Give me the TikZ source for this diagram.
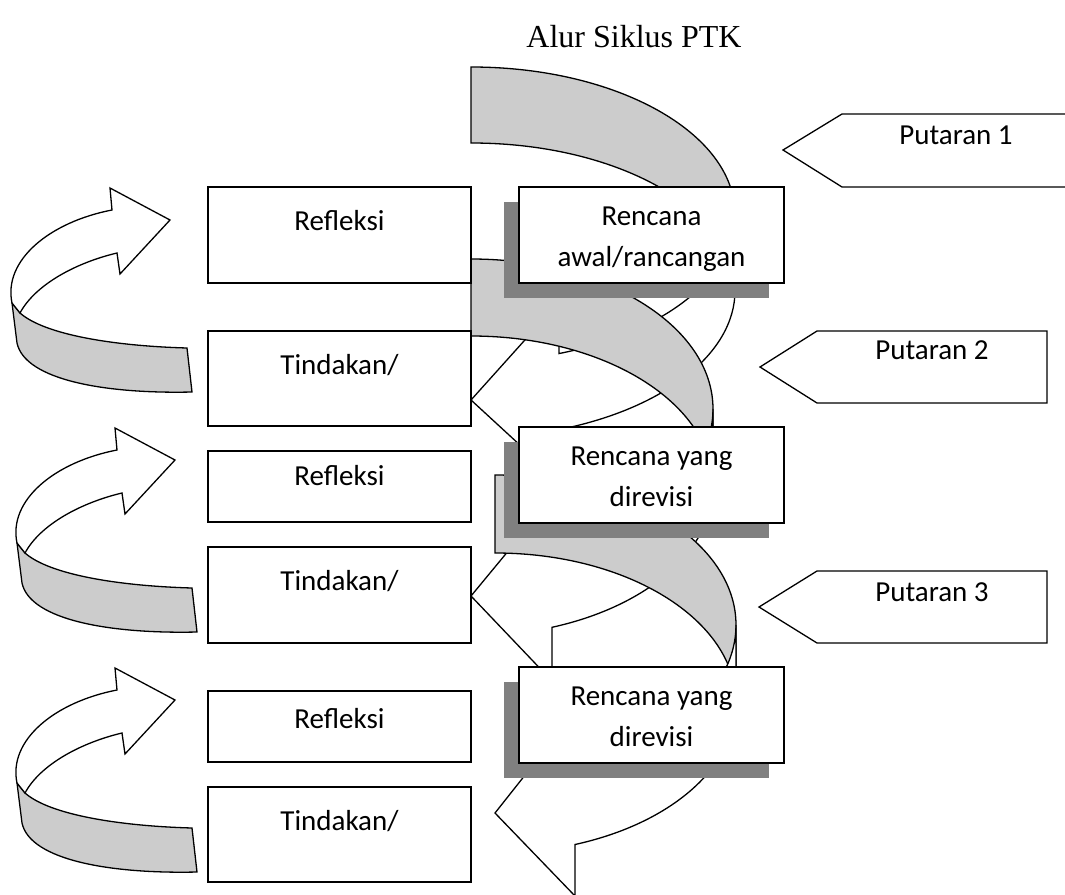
\documentclass[tikz,border=0pt]{standalone}
\usepackage{fontspec}
\setmainfont{Carlito}
\newfontfamily\titlefont{Liberation Serif}
\usetikzlibrary{shadows}
\begin{document}
\begin{tikzpicture}[x=1pt,y=-1pt,line width=1.3pt,
    box/.style={rectangle,draw,fill=white,inner sep=0pt,minimum width=263pt},
    plan/.style={rectangle,draw,fill=white,inner sep=0pt,minimum width=265pt,minimum height=96pt,
      drop shadow={shadow xshift=-15pt,shadow yshift=-15pt,opacity=1,fill=black!50}},
    box text/.style={anchor=base,align=center,inner sep=0pt,font=\fontsize{29}{41}\selectfont},
    back/.style={draw,fill=black!20},
    front/.style={draw,fill=white}]
  \useasboundingbox (0,0) rectangle (1065,894);
  \clip (0,0) rectangle (1065,894);

  \node[anchor=base,inner sep=0pt,font=\titlefont\fontsize{32}{38}\selectfont] (title) at (634,47) {Alur Siklus PTK};

  % putaran 1
  \draw[back] (471,67) arc[start angle=270,end angle=360,x radius=264,y radius=147.5]
    -- (735,290.5) arc[start angle=0,end angle=-90,x radius=264,y radius=147.5] -- cycle;
  \draw[front] (735,214.5) arc[start angle=0,end angle=70.53,x radius=264,y radius=147.5]
    -- (559,302) -- (471,400) -- (559,481) -- (559,429.6)
    arc[start angle=70.53,end angle=0,x radius=264,y radius=147.5] -- cycle;
  % putaran 2
  \draw[back] (471,259) arc[start angle=270,end angle=360,x radius=242,y radius=150]
    -- (713,486) arc[start angle=0,end angle=-90,x radius=242,y radius=150] -- cycle;
  \draw[front] (713,409) arc[start angle=0,end angle=70.45,x radius=242,y radius=150]
    -- (552,498) -- (471,596) -- (552,681) -- (552,627.3)
    arc[start angle=70.45,end angle=0,x radius=242,y radius=150] -- cycle;
  % putaran 3
  \draw[back] (495,475) arc[start angle=270,end angle=360,x radius=241,y radius=150]
    -- (736,703) arc[start angle=0,end angle=-90,x radius=241,y radius=150] -- cycle;
  \draw[front] (736,625) arc[start angle=0,end angle=70.6,x radius=241,y radius=150]
    -- (575,712) -- (495,813) -- (575,896) -- (575,844.5)
    arc[start angle=70.6,end angle=0,x radius=241,y radius=150] -- cycle;

  % rencana
  \node[plan] (plan1) at (651.5,235) {};
  \node[plan] (plan2) at (651.5,475) {};
  \node[plan] (plan3) at (651.5,715) {};
  \node[box text] (plan1 text) at ([yshift=-80pt]plan1.north) {Rencana\\awal/rancangan};
  \node[box text] (plan2 text) at ([yshift=-80pt]plan2.north) {Rencana yang\\direvisi};
  \node[box text] (plan3 text) at ([yshift=-80pt]plan3.north) {Rencana yang\\direvisi};

  % refleksi / tindakan
  \node[box,minimum height=96pt] (refl1) at (339.5,235) {};
  \node[box,minimum height=95pt] (tind1) at (339.5,378.5) {};
  \node[box,minimum height=71pt] (refl2) at (339.5,486.5) {};
  \node[box,minimum height=96pt] (tind2) at (339.5,595) {};
  \node[box,minimum height=71pt] (refl3) at (339.5,726.5) {};
  \node[box,minimum height=95pt] (tind3) at (339.5,834.5) {};
  \node[box text] (refl1 text) at ([yshift=-44pt]refl1.north) {Refleksi};
  \node[box text] (tind1 text) at ([yshift=-44pt]tind1.north) {Tindakan/};
  \node[box text] (refl2 text) at ([yshift=-35pt]refl2.north) {Refleksi};
  \node[box text] (tind2 text) at ([yshift=-44pt]tind2.north) {Tindakan/};
  \node[box text] (refl3 text) at ([yshift=-38pt]refl3.north) {Refleksi};
  \node[box text] (tind3 text) at ([yshift=-44pt]tind3.north) {Tindakan/};

  % labels
  \draw[front] (783,150) -- (842,114) -- (1070,114) -- (1070,187) -- (842,187) -- cycle;
  \draw[front] (760,367) -- (817,331) -- (1047,331) -- (1047,403) -- (817,403) -- cycle;
  \draw[front] (759,607) -- (817,571) -- (1047,571) -- (1047,643) -- (817,643) -- cycle;
  \node[box text] (put1) at (956,144) {Putaran 1};
  \node[box text] (put2) at (932,359) {Putaran 2};
  \node[box text] (put3) at (932,601) {Putaran 3};

  % left loops
  \foreach \tx/\ty in {170/220,175/460,175/700}{
    \begin{scope}[shift={(\tx,\ty)}]
      \draw[back] (-158,83) -- (-153,123) .. controls (-145,160) and (-65,174) .. (22,172)
        -- (17,128) .. controls (-55,126) and (-125,115) .. (-150,93) -- cycle;
      \draw[front] (-60,-32) -- (0,0) -- (-50,54) -- (-53,33) .. controls (-95,43) and (-135,65) .. (-150,93)
        -- (-158,83) .. controls (-167,40) and (-120,2) .. (-58,-10) -- cycle;
    \end{scope}
  }
\end{tikzpicture}
\end{document}
